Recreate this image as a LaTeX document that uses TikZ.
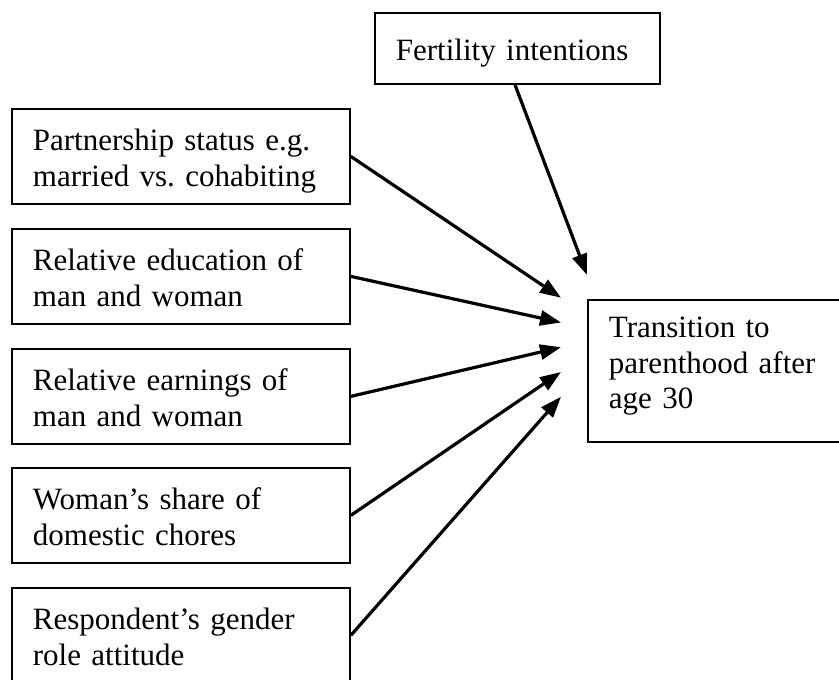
\documentclass[tikz,border=0pt]{standalone}
\usepackage{fontspec}
\setmainfont{Liberation Serif}
\usetikzlibrary{arrows.meta}
\frenchspacing

\begin{document}
\begin{tikzpicture}[x=1pt,y=-1pt,
  box/.style={draw,line width=1.8pt,anchor=north west,align=left,
    inner xsep=21pt,inner ysep=0pt,
    font=\fontsize{31}{35.5}\selectfont},
  leftbox/.style={box,text width=296pt,text height=42pt,text depth=53pt},
  link/.style={line width=3.2pt,-{Triangle[length=21pt,width=15pt]}}]
\useasboundingbox (0,0) rectangle (839,680);
% outcome and intentions
\node[box,text width=243pt,text height=48pt,text depth=23pt] (fert) at (374,12)
  {Fertility intentions};
\node[box,text width=228pt,text height=38pt,text depth=104pt] (trans) at (587,299)
  {Transition to\\parenthood after\\age 30};
% explanatory factors
\node[leftbox] (part) at (11,108) {Partnership status e.g.\\married vs. cohabiting};
\node[leftbox] (educ) at (11,228) {Relative education of\\man and woman};
\node[leftbox] (earn) at (11,348) {Relative earnings of\\man and woman};
\node[leftbox] (chore) at (11,467) {Woman’s share of\\domestic chores};
\node[leftbox] (att) at (11,587) {Respondent’s gender\\role attitude};
% arrows
\coordinate (ferttip) at (587,275);
\foreach \i in {1,...,5}
  \coordinate (tip\i) at (561,273+24.75*\i);
\draw[link] ([xshift=141pt]fert.south west) -- (ferttip);
\foreach \n [count=\i] in {part,educ,earn,chore,att}
  \draw[link] (\n.east) -- (tip\i);
\end{tikzpicture}
\end{document}
